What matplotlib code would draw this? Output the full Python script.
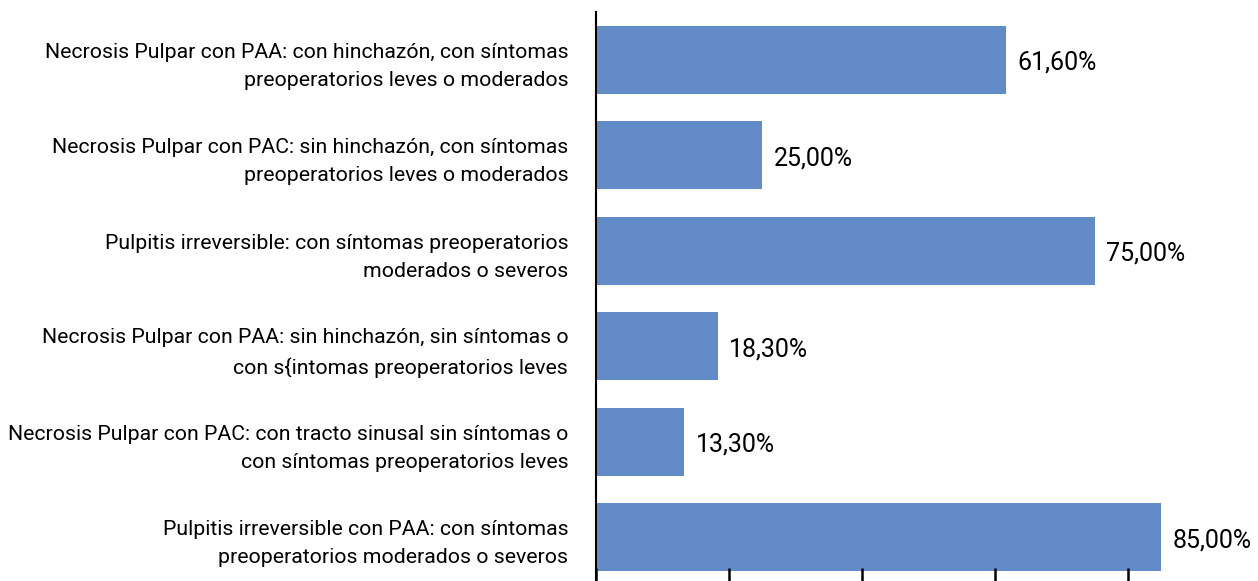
import matplotlib
matplotlib.use('Agg')
import matplotlib.pyplot as plt

# Datos (de arriba hacia abajo)
categorias = [
    'Necrosis Pulpar con PAA: con hinchazón, con síntomas\npreoperatorios leves o moderados',
    'Necrosis Pulpar con PAC: sin hinchazón, con síntomas\npreoperatorios leves o moderados',
    'Pulpitis irreversible: con síntomas preoperatorios\nmoderados o severos',
    'Necrosis Pulpar con PAA: sin hinchazón, sin síntomas o\ncon s{intomas preoperatorios leves',
    'Necrosis Pulpar con PAC: con tracto sinusal sin síntomas o\ncon síntomas preoperatorios leves',
    'Pulpitis irreversible con PAA: con síntomas\npreoperatorios moderados o severos',
]
valores = [61.6, 25.0, 75.0, 18.3, 13.3, 85.0]
etiquetas = ['61,60%', '25,00%', '75,00%', '18,30%', '13,30%', '85,00%']

plt.rcParams['font.family'] = ['Roboto', 'DejaVu Sans']

W, H = 1258, 581
fig = plt.figure(figsize=(W/100, H/100), dpi=100)
# el eje va de x=596 px a 1261 px (100%), y de 12 px a 585 px
ax = fig.add_axes([596/W, (H-585)/H, (1261-596)/W, (585-12)/H])

pos = list(range(len(valores)))[::-1]
ax.barh(pos, valores, height=0.71, color='#628bc7')

for p, v, t in zip(pos, valores, etiquetas):
    ax.text(v + 1.7, p - 0.03, t, va='center', ha='left', fontsize=18)

ax.set_xlim(0, 100)
ax.set_ylim(-0.5, len(valores) - 0.5)
ax.set_yticks(pos)
ax.set_yticklabels(categorias, fontsize=15.3, linespacing=1.6)
ax.tick_params(axis='y', length=0, pad=20)
ax.set_xticks([0, 20, 40, 60, 80, 100])
ax.set_xticklabels([])
ax.tick_params(axis='x', direction='in', length=12, width=1.8)

for lado in ['top', 'right']:
    ax.spines[lado].set_visible(False)
ax.spines['left'].set_linewidth(1.5)
ax.spines['bottom'].set_linewidth(1.5)

fig.savefig('out.png', dpi=100)
